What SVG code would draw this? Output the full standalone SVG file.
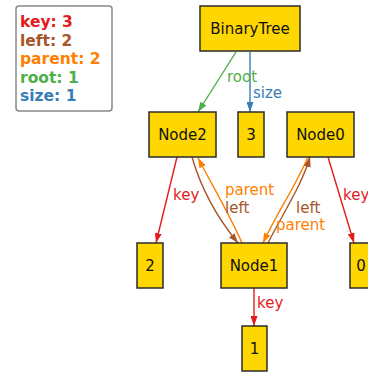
<svg xmlns="http://www.w3.org/2000/svg" width="368" height="375" viewBox="0 0 368 375">
<style>
.node rect{fill:#ffd700;stroke:#2b2b2b;stroke-width:1.5}
.node text{font-family:"DejaVu Sans",sans-serif;font-size:15px;fill:#111;text-anchor:middle}
.edge{fill:none;stroke-width:1.4}
.lbl{font-family:"DejaVu Sans",sans-serif;font-size:15px}
.leg{font-family:"DejaVu Sans",sans-serif;font-size:15.5px;font-weight:bold}
.red{stroke:#e41a1c}.brown{stroke:#a65628}.orange{stroke:#ff7f00}.green{stroke:#4daf4a}.blue{stroke:#377eb8}
</style>
<defs>
<marker id="aRed" viewBox="0 0 10 7" refX="10" refY="3.5" markerWidth="10" markerHeight="7" markerUnits="userSpaceOnUse" orient="auto"><path d="M0,0 L10,3.5 L0,7 z" fill="#e41a1c"/></marker>
<marker id="aBrown" viewBox="0 0 10 7" refX="10" refY="3.5" markerWidth="10" markerHeight="7" markerUnits="userSpaceOnUse" orient="auto"><path d="M0,0 L10,3.5 L0,7 z" fill="#a65628"/></marker>
<marker id="aOrange" viewBox="0 0 10 7" refX="10" refY="3.5" markerWidth="10" markerHeight="7" markerUnits="userSpaceOnUse" orient="auto"><path d="M0,0 L10,3.5 L0,7 z" fill="#ff7f00"/></marker>
<marker id="aGreen" viewBox="0 0 10 7" refX="10" refY="3.5" markerWidth="10" markerHeight="7" markerUnits="userSpaceOnUse" orient="auto"><path d="M0,0 L10,3.5 L0,7 z" fill="#4daf4a"/></marker>
<marker id="aBlue" viewBox="0 0 10 7" refX="10" refY="3.5" markerWidth="10" markerHeight="7" markerUnits="userSpaceOnUse" orient="auto"><path d="M0,0 L10,3.5 L0,7 z" fill="#377eb8"/></marker>
</defs>
<rect width="368" height="375" fill="#fff"/>
<g id="legend">
<rect x="16" y="6" width="96" height="105" rx="3" fill="#fff" stroke="#888" stroke-width="1.5"/>
<text class="leg" x="20" y="27" fill="#e41a1c">key: 3</text>
<text class="leg" x="20" y="45.5" fill="#a65628">left: 2</text>
<text class="leg" x="20" y="64" fill="#ff7f00">parent: 2</text>
<text class="leg" x="20" y="82.5" fill="#4daf4a">root: 1</text>
<text class="leg" x="20" y="100.5" fill="#377eb8">size: 1</text>
</g>
<g id="connectors">
<path class="edge green" d="M236,52 L198,112" marker-end="url(#aGreen)"/>
<path class="edge blue" d="M250,52 L250,112" marker-end="url(#aBlue)"/>
<path class="edge red" d="M177,157 L156,243" marker-end="url(#aRed)"/>
<path class="edge brown" d="M192,157 C200,185 215,215 238,243" marker-end="url(#aBrown)"/>
<path class="edge orange" d="M242,243 C230,215 212,185 198,158" marker-end="url(#aOrange)"/>
<path class="edge orange" d="M308,157 C296,185 276,215 263,243" marker-end="url(#aOrange)"/>
<path class="edge brown" d="M268,243 C282,215 302,185 310,157" marker-end="url(#aBrown)"/>
<path class="edge red" d="M328,157 L354,243" marker-end="url(#aRed)"/>
<path class="edge red" d="M254,288 L254,326" marker-end="url(#aRed)"/>
<text class="lbl" x="227" y="82" fill="#4daf4a">root</text>
<text class="lbl" x="253" y="98" fill="#377eb8">size</text>
<text class="lbl" x="173" y="200" fill="#e41a1c">key</text>
<text class="lbl" x="225" y="195" fill="#ff7f00">parent</text>
<text class="lbl" x="225" y="213" fill="#a65628">left</text>
<text class="lbl" x="296" y="213" fill="#a65628">left</text>
<text class="lbl" x="276" y="230" fill="#ff7f00">parent</text>
<text class="lbl" x="343" y="200" fill="#e41a1c">key</text>
<text class="lbl" x="257" y="308" fill="#e41a1c">key</text>
</g>
<g id="BinaryTree" class="node"><rect x="200" y="6" width="100" height="45"/><text x="250" y="34">BinaryTree</text></g>
<g id="Node2" class="node"><rect x="149" y="112" width="67" height="45"/><text x="182.5" y="140">Node2</text></g>
<g id="n3" class="node"><rect x="238" y="112" width="26" height="45"/><text x="251" y="140">3</text></g>
<g id="Node0" class="node"><rect x="287" y="112" width="67" height="45"/><text x="320.5" y="140">Node0</text></g>
<g id="n2" class="node"><rect x="137" y="243" width="26" height="45"/><text x="150" y="271">2</text></g>
<g id="Node1" class="node"><rect x="221" y="243" width="66" height="45"/><text x="254" y="271">Node1</text></g>
<g id="n0" class="node"><rect x="350" y="243" width="26" height="45"/><text x="361" y="271">0</text></g>
<g id="n1" class="node"><rect x="242" y="326" width="25" height="45"/><text x="254.5" y="354">1</text></g>
</svg>
